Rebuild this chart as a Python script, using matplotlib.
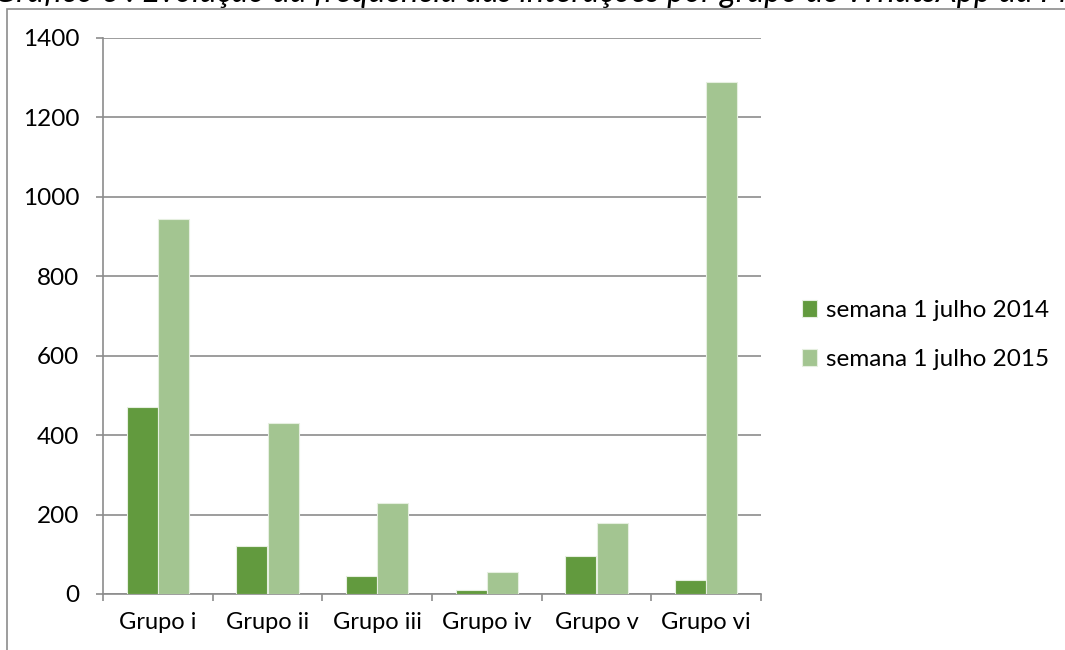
import matplotlib
matplotlib.use("Agg")
import matplotlib.pyplot as plt
import numpy as np
from matplotlib.patches import Rectangle

categories = ["Grupo i", "Grupo ii", "Grupo iii", "Grupo iv", "Grupo v", "Grupo vi"]
series_names = ["semana 1 julho 2014", "semana 1 julho 2015"]
values_2014 = [470, 120, 45, 10, 95, 35]
values_2015 = [945, 430, 230, 55, 180, 1290]
yticks = [0, 200, 400, 600, 800, 1000, 1200, 1400]
title = "Gráfico 6 : Evolução da frequência das interações por grupo de WhatsApp da PM"

plt.rcParams['font.family'] = ['Lato', 'DejaVu Sans']

fig = plt.figure(figsize=(10.65, 6.5), dpi=100)
ax = fig.add_axes([103/1065, 1-594/650, (761-103)/1065, (594-38)/650])

x = np.arange(len(categories))
w = 0.285
c1 = "#629a3e"
c2 = "#a3c591"
ax.bar(x - w/2, values_2014, w, color=c1, edgecolor="#e6efe0", linewidth=0.8, label=series_names[0], zorder=3)
ax.bar(x + w/2, values_2015, w, color=c2, edgecolor="#e6efe0", linewidth=0.8, label=series_names[1], zorder=3)

ax.set_xlim(-0.5, len(categories) - 0.5)
ax.set_ylim(0, 1400)
ax.set_yticks(yticks)
ax.set_yticklabels([str(v) for v in yticks])
ax.yaxis.grid(True, color="#8c8c8c", linewidth=1.2, zorder=0)
ax.set_axisbelow(True)

for s in ["top", "right"]:
    ax.spines[s].set_visible(False)
for s in ["left", "bottom"]:
    ax.spines[s].set_color("#8c8c8c")
    ax.spines[s].set_linewidth(1.2)

ax.set_xticks(x)
ax.set_xticklabels(categories)
ax.tick_params(axis="x", which="major", length=0, labelsize=17, pad=13)
ax.set_xticks(np.arange(-0.5, len(categories)), minor=True)
ax.tick_params(axis="x", which="minor", length=5, color="#8c8c8c", width=1.2)
ax.tick_params(axis="y", length=5, color="#8c8c8c", width=1.2, labelsize=17.5, pad=12)

leg = ax.legend(loc="center left", bbox_to_anchor=(1.048, 0.466), frameon=False,
                fontsize=17.5, handlelength=0.62, handleheight=0.72,
                handletextpad=0.35, labelspacing=1.15, borderaxespad=0)

# outer chart frame
fig.patches.append(Rectangle((7/1065, -0.1), 1.2, 1.1 - 9/650,
                             transform=fig.transFigure, fill=False,
                             edgecolor="#8c8c8c", linewidth=1.2))

fig.text(-0.006, 1 - 2/650, title, fontsize=23.5, style="italic", ha="left", va="baseline")

fig.savefig("out.png", dpi=100)
